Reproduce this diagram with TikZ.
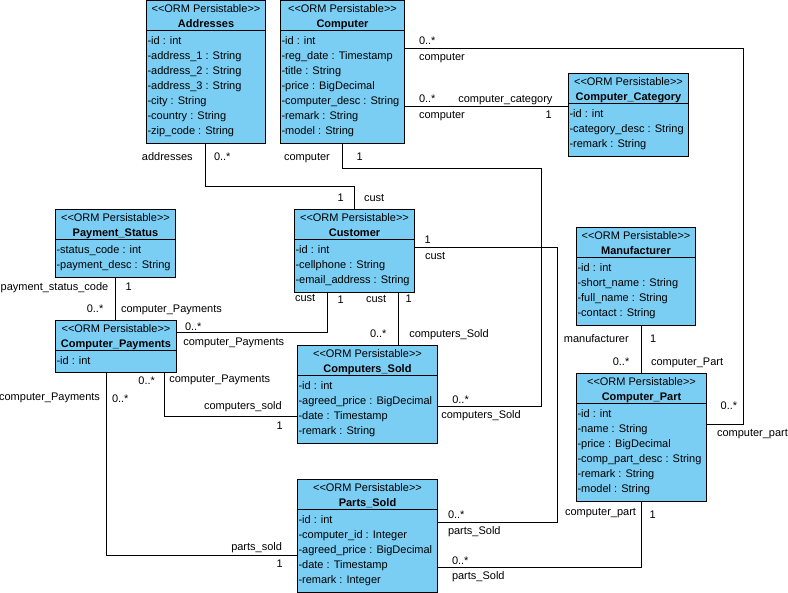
\documentclass[tikz,border=0pt]{standalone}
\usepackage{fontspec}
\newfontfamily\lsans{Liberation Sans}
\usetikzlibrary{calc}
\definecolor{clsfill}{RGB}{122,206,244}
\tikzset{
  clsbox/.style={draw=black, fill=clsfill, line width=1pt, outer sep=0pt, inner sep=0pt, rectangle},
  txt/.style={font=\lsans\fontsize{11}{13}\selectfont, inner sep=0pt, outer sep=0pt, text=black},
  boldtxt/.style={txt, font=\lsans\bfseries\fontsize{11}{13}\selectfont},
  lblw/.style={txt, anchor=base west, yshift=-0.6pt},
  lble/.style={txt, anchor=base east, yshift=-0.6pt},
  attr/.style={txt, anchor=base west},
  conn/.style={draw=black, line width=1pt},
}
\newcommand{\umlclass}[7]{%
  \node[clsbox, minimum width=#4pt, minimum height=#5pt, anchor=north west] (#1) at (#2,#3) {};
  \draw[conn] ($(#1.north west)+(0,30)$) -- ($(#1.north east)+(0,30)$);
  \node[txt, anchor=base] (#1-st) at ($(#1.north)+(0,12.1)$) {<\kern0pt<ORM Persistable>\kern0pt>};
  \node[boldtxt, anchor=base] (#1-nm) at ($(#1.north)+(0,27.1)$) {#6};
  \foreach \a [count=\i from 0] in {#7} {
    \node[attr] (#1-a\i) at ($(#1.north west)+(1,{44.1+15*\i})$) {\a};
  }
}
\begin{document}
\begin{tikzpicture}[x=1pt,y=-1pt]
\useasboundingbox (0,0) rectangle (788,593);

% ---------- classes ----------
\umlclass{addr}{146.5}{0.5}{119}{143}{Addresses}{-id : int,-address\_1 : String,-address\_2 : String,-address\_3 : String,-city : String,-country : String,-zip\_code : String}
\umlclass{comp}{280.5}{0.5}{124}{143}{Computer}{-id : int,-reg\_date : Timestamp,-title : String,-price : BigDecimal,-computer\_desc : String,-remark : String,-model : String}
\umlclass{ccat}{568.5}{73.5}{120}{83}{Computer\_Category}{-id : int,-category\_desc : String,-remark : String}
\umlclass{pstat}{55.5}{209.5}{120}{68}{Payment\_Status}{-status\_code : int,-payment\_desc : String}
\umlclass{cust}{294.5}{209.5}{120}{83}{Customer}{-id : int,-cellphone : String,-email\_address : String}
\umlclass{manu}{576.5}{227.5}{119}{98}{Manufacturer}{-id : int,-short\_name : String,-full\_name : String,-contact : String}
\umlclass{cpay}{55.5}{320.5}{121}{52}{Computer\_Payments}{-id : int}
\umlclass{csold}{297.5}{345.5}{140}{98}{Computers\_Sold}{-id : int,-agreed\_price : BigDecimal,-date : Timestamp,-remark : String}
\umlclass{cpart}{576.5}{373.5}{130}{128}{Computer\_Part}{-id : int,-name : String,-price : BigDecimal,-comp\_part\_desc : String,-remark : String,-model : String}
\umlclass{psold}{297.5}{479.5}{140}{113}{Parts\_Sold}{-id : int,-computer\_id : Integer,-agreed\_price : BigDecimal,-date : Timestamp,-remark : Integer}

% ---------- connectors ----------
\draw[conn] ($(addr.south west)+(59,0)$) -- ++(0,43) -| ($(cust.north west)+(60,0)$);
\draw[conn] ($(comp.south west)+(62,0)$) -- ++(0,25) -- ++(199,0) |- ($(csold.north east)+(0,61.5)$);
\draw[conn] ($(comp.north east)+(0,48)$) -- ++(339,0) |- ($(cpart.north east)+(0,51)$);
\draw[conn] ($(comp.north east)+(0,106)$) -- ($(ccat.north west)+(0,33)$);
\draw[conn] ($(cust.south west)+(33,0)$) |- ($(cpay.north east)+(0,12)$);
\draw[conn] ($(cust.south west)+(104,0)$) -- ($(csold.north west)+(101,0)$);
\draw[conn] ($(cust.north east)+(0,38)$) -- ++(143,0) |- ($(psold.north east)+(0,43)$);
\draw[conn] (pstat.south) -- (pstat.south |- cpay.north);
\draw[conn] ($(cpay.south west)+(109,0)$) |- ($(csold.north west)+(0,71)$);
\draw[conn] ($(cpay.south west)+(51,0)$) |- ($(psold.north west)+(0,76)$);
\draw[conn] ($(manu.south west)+(65,0)$) -- ($(cpart.north west)+(65,0)$);
\draw[conn] ($(cpart.south west)+(65,0)$) |- ($(psold.north east)+(0,88)$);

% ---------- labels ----------
% Addresses - Customer
\node[lble] (l1a) at (192.7,160.4) {addresses};
\node[lblw] (l1b) at (214,160.4) {0..*};
\node[lblw] (l1c) at (337.5,200.5) {1};
\node[lblw] (l1d) at (364,200.7) {cust};
% Computer - Computers_Sold
\node[lblw] (l2a) at (284,160.4) {computer};
\node[lblw] (l2b) at (356.5,160.4) {1};
\node[lblw] (l2c) at (452.3,403) {0..*};
\node[lblw] (l2d) at (441.3,417.7) {computers\_Sold};
% Computer - Computer_Part
\node[lblw] (l3a) at (419,44) {0..*};
\node[lblw] (l3b) at (419,59.7) {computer};
\node[lblw] (l3c) at (720.7,408.7) {0..*};
\node[lblw] (l3d) at (717,436.4) {computer\_part};
% Computer - Computer_Category
\node[lblw] (l4a) at (419,102.4) {0..*};
\node[lblw] (l4b) at (458.3,102.4) {computer\_category};
\node[lblw] (l4c) at (419,118) {computer};
\node[lblw] (l4d) at (545.5,118) {1};
% Customer - Computer_Payments
\node[lblw] (l5a) at (295,301) {cust};
\node[lblw] (l5b) at (337.5,302.7) {1};
\node[lblw] (l5c) at (185,330.4) {0..*};
\node[lblw] (l5d) at (183.3,345.4) {computer\_Payments};
% Customer - Computers_Sold
\node[lblw] (l6a) at (366,302) {cust};
\node[lblw] (l6b) at (405.5,302) {1};
\node[lblw] (l6c) at (370,337) {0..*};
\node[lblw] (l6d) at (409.3,337) {computers\_Sold};
% Customer - Parts_Sold
\node[lblw] (l7a) at (424.5,243) {1};
\node[lblw] (l7b) at (425,258.7) {cust};
\node[lblw] (l7c) at (448,517.7) {0..*};
\node[lblw] (l7d) at (448,534.4) {parts\_Sold};
% Payment_Status - Computer_Payments
\node[lble] (l8a) at (108.3,290.4) {payment\_status\_code};
\node[lblw] (l8b) at (125.5,290) {1};
\node[lble] (l8c) at (103.3,312) {0..*};
\node[lblw] (l8d) at (121,312) {computer\_Payments};
% Computer_Payments - Computers_Sold
\node[lble] (l9a) at (155,384.4) {0..*};
\node[lblw] (l9b) at (169.3,382) {computer\_Payments};
\node[lble] (l9c) at (281.7,409.4) {computers\_sold};
\node[lblw] (l9d) at (276.5,429) {1};
% Computer_Payments - Parts_Sold
\node[lble] (l10a) at (100,400.4) {computer\_Payments};
\node[lblw] (l10b) at (112,402) {0..*};
\node[lble] (l10c) at (282,550.4) {parts\_sold};
\node[lblw] (l10d) at (276.5,567) {1};
% Manufacturer - Computer_Part
\node[lble] (l11a) at (628.7,342) {manufacturer};
\node[lblw] (l11b) at (650,342) {1};
\node[lble] (l11c) at (629.3,365.4) {0..*};
\node[lblw] (l11d) at (651,365.4) {computer\_Part};
% Computer_Part - Parts_Sold
\node[lble] (l12a) at (636,515.4) {computer\_part};
\node[lblw] (l12b) at (649.7,517.7) {1};
\node[lblw] (l12c) at (452,563.7) {0..*};
\node[lblw] (l12d) at (452,578.7) {parts\_Sold};
\end{tikzpicture}
\end{document}
